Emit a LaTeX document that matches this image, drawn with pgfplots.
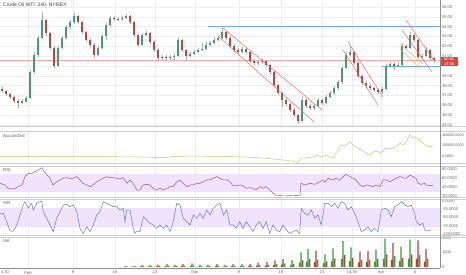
\documentclass[border=0pt]{standalone}
\usepackage{fontspec}
\setmainfont{Liberation Sans}
\usepackage{pgfplots}
\usepackage{pgfplotstable}
\pgfplotsset{compat=1.18}
\definecolor{upc}{RGB}{80,150,118}
\definecolor{dnc}{RGB}{168,78,70}
\definecolor{wickc}{RGB}{175,175,175}
\definecolor{chan}{RGB}{230,100,100}
\definecolor{hblue}{RGB}{115,165,225}
\definecolor{orng}{RGB}{240,175,90}
\definecolor{pline}{RGB}{240,170,170}
\definecolor{adc}{RGB}{200,195,120}
\definecolor{rsic}{RGB}{150,80,170}
\definecolor{wrc}{RGB}{100,120,190}
\definecolor{band}{RGB}{240,226,250}
\definecolor{vg}{RGB}{55,155,60}
\definecolor{vr}{RGB}{170,65,65}
\definecolor{boxred}{RGB}{220,70,60}
\definecolor{sep}{RGB}{205,205,205}

\pgfplotstableread{
x o h l c
2 47.60 47.85 47.30 47.46
6 47.46 47.60 47.00 47.15
10 47.15 47.30 46.65 46.85
14 46.85 46.95 46.25 46.44
18 46.44 46.60 45.75 46.34
22 46.34 46.60 46.15 46.40
26 46.40 46.95 46.30 46.75
30 46.75 49.60 46.65 49.39
34 49.39 51.40 49.20 51.12
38 51.12 53.10 50.95 52.85
42 52.85 55.49 52.70 54.68
46 54.68 54.80 53.10 53.36
50 53.36 53.50 51.60 51.83
54 51.83 52.00 49.75 50.00
58 50.00 52.00 49.90 51.83
62 51.83 53.05 51.70 52.85
66 52.85 54.20 52.70 53.97
70 53.97 54.70 53.80 54.47
74 54.47 55.40 54.30 55.08
78 55.08 55.20 54.30 54.47
82 54.47 54.60 53.25 53.46
86 53.46 53.60 52.45 52.64
90 52.64 52.80 51.95 52.14
94 52.14 52.30 50.85 51.12
98 51.12 52.00 51.00 51.83
102 51.83 53.25 51.70 53.05
106 53.05 54.40 52.60 54.17
110 54.17 55.10 54.00 54.88
114 54.88 55.05 54.55 54.80
118 54.80 55.00 54.55 54.78
122 54.78 55.10 54.60 54.88
126 54.88 55.30 54.80 55.08
130 55.08 55.20 54.30 54.47
134 54.47 54.60 52.95 53.15
138 53.15 53.30 51.95 52.14
142 52.14 53.40 52.00 53.15
146 53.15 53.60 53.00 53.36
150 53.36 53.50 52.25 52.44
154 52.44 52.60 51.45 51.63
158 51.63 51.80 50.60 50.81
162 50.81 51.15 50.60 50.92
166 50.92 51.10 50.65 50.81
170 50.81 51.15 50.65 50.92
174 50.92 51.25 50.55 51.02
178 51.02 52.85 50.95 52.64
182 52.64 52.75 51.45 51.63
186 51.63 51.75 50.50 51.02
190 51.02 51.45 50.90 51.22
194 51.22 51.65 51.10 51.42
198 51.42 51.85 51.30 51.63
202 51.63 52.30 51.50 51.73
206 51.73 52.40 51.60 52.14
210 52.14 52.55 52.00 52.34
214 52.34 52.90 52.20 52.64
218 52.64 53.10 52.50 52.85
222 52.85 53.86 52.75 53.46
226 53.46 53.60 52.65 52.85
230 52.85 53.00 51.85 52.03
234 52.03 52.20 51.45 51.63
238 51.63 51.80 51.25 51.42
242 51.42 51.95 51.30 51.73
246 51.73 51.90 51.25 51.42
250 51.42 51.55 50.30 50.51
254 50.51 50.70 50.10 50.31
258 50.31 50.65 50.15 50.41
262 50.41 50.80 50.25 50.51
266 50.51 50.65 49.90 50.10
270 50.10 50.25 49.20 49.39
274 49.39 49.50 47.90 48.07
278 48.07 48.20 47.05 47.25
282 47.25 47.40 45.80 46.54
286 46.54 46.70 45.90 46.14
290 46.14 46.30 45.30 45.53
294 45.53 45.70 44.80 45.02
298 45.02 45.15 44.10 44.41
302 44.41 46.90 44.30 46.54
306 46.54 46.70 45.70 45.93
310 45.93 46.10 45.50 45.73
314 45.73 46.15 45.55 45.93
318 45.93 46.75 45.80 46.54
322 46.54 46.70 46.05 46.24
326 46.24 47.05 46.10 46.85
330 46.85 47.45 46.70 47.25
334 47.25 48.00 47.10 47.76
338 47.76 48.60 47.60 48.37
342 48.37 50.00 48.20 49.80
346 49.80 51.40 49.65 51.12
350 51.12 51.95 50.95 51.42
354 51.42 51.55 50.10 50.31
358 50.31 50.45 48.80 48.98
362 48.98 49.10 48.05 48.27
366 48.27 48.45 47.75 47.97
370 47.97 48.15 47.55 47.76
374 47.76 47.90 47.35 47.56
378 47.56 47.75 47.15 47.36
382 47.36 47.90 47.20 47.66
386 47.66 50.25 47.55 50.00
390 50.00 50.45 49.85 50.20
394 50.20 50.40 49.60 50.00
398 50.00 50.40 49.85 50.10
402 50.10 52.30 50.00 52.03
406 52.03 52.20 51.60 51.83
410 51.83 53.50 51.70 53.15
414 53.15 53.25 52.40 52.64
418 52.64 52.75 50.70 50.92
422 50.92 51.25 50.75 51.02
426 51.02 51.90 50.90 51.63
430 51.63 51.75 50.60 50.81
434 50.81 50.95 50.45 50.61
}\candles

\pgfplotstableread{
x v
0 -13000
20 -10000
40 -11000
60 -13000
80 -10000
100 -11000
120 -15000
140 -19000
153 -25000
165 -29000
173 -10000
187 -4000
200 -2000
213 -11000
233 -13000
245 -19000
266 -44000
283 -76000
290 -91000
298 -120000
301 -44000
305 -38000
315 -13000
316 19000
321 -13000
326 10000
333 -44000
336 57000
341 210000
345 190000
350 272000
353 210000
358 152000
362 114000
366 57000
370 19000
373 76000
376 95000
381 57000
386 152000
390 133000
393 152000
397 190000
400 248000
403 210000
406 267000
410 400000
413 343000
416 343000
420 305000
425 210000
430 177000
433 190000
}\adtab

\pgfplotstableread{
x v
0 48.7
5 45.1
8 37.8
12 36.3
15 37.8
18 41.4
22 45.1
25 63.3
28 70.5
32 70.5
35 74.2
38 77.8
42 82.9
43 77.8
47 66.9
50 59.6
53 45.1
57 52.3
60 56.0
63 59.6
67 61.1
70 59.6
73 59.6
77 63.3
80 56.0
83 48.7
87 45.1
90 41.4
93 45.1
97 52.3
100 56.0
103 59.6
107 63.3
110 61.1
113 61.1
117 59.6
120 58.2
123 61.1
127 48.7
130 56.0
133 48.7
137 34.1
140 34.1
143 45.1
147 46.5
150 45.1
153 37.8
157 34.1
160 37.8
163 34.1
167 37.8
170 41.4
173 41.4
177 52.3
180 56.0
183 48.7
187 41.4
190 45.1
193 45.1
197 48.7
200 48.7
203 52.3
207 56.0
210 56.0
213 59.6
217 63.3
220 59.6
223 56.0
227 56.0
230 52.3
233 43.0
240 45.1
243 43.6
246 37.8
250 39.2
253 37.8
256 34.1
260 41.4
263 37.8
266 41.4
270 34.1
273 26.9
276 23.2
280 21.8
283 23.2
286 23.2
290 21.8
293 23.2
296 21.8
300 23.2
301 48.7
305 45.1
310 48.7
315 46.5
320 52.3
323 56.0
325 50.9
328 59.6
333 56.0
336 59.6
340 56.0
343 63.3
346 68.4
350 63.3
353 59.6
356 56.0
360 45.1
363 41.4
366 45.1
370 43.6
373 41.4
376 45.1
380 41.4
383 56.0
386 56.0
390 52.3
393 56.0
396 59.6
400 63.3
403 61.1
406 59.6
410 66.9
413 63.3
416 59.6
418 48.7
421 46.5
425 48.7
426 45.1
430 43.6
433 43.6
}\rsitab

\pgfplotstableread{
x v
0 -37.4
3.3 -37.4
6.7 -62.6
10 -90.9
13.3 -90.9
16.7 -72.7
20 -42.4
23.3 -12.1
25 -2.0
28.3 -22.2
31.7 -7.1
33.3 -27.3
36.7 -7.1
40 -2.0
41.7 -0.5
43.3 -32.3
46.7 -52.5
50 -72.7
53.3 -92.9
56.7 -52.5
60 -32.3
63.3 -12.1
66.7 -10.1
70 -17.2
73.3 -12.1
76.7 -32.3
80 -82.8
83.3 -98.0
86.7 -77.8
90 -92.9
93.3 -72.7
96.7 -42.4
100 -32.3
103.3 -2.0
106.7 -7.1
110 -12.1
113.3 -17.2
116.7 -17.2
120 -27.3
123.3 -22.2
125 -62.6
126.7 -27.3
130 -27.3
133.3 -82.8
135 -98.0
136.7 -90.9
140 -92.9
143.3 -47.5
146.7 -57.6
150 -67.7
153.3 -72.7
156.7 -82.8
160 -72.7
163.3 -82.8
166.7 -72.7
170 -92.9
173.3 -62.6
176.7 -7.1
180 -12.1
183.3 -52.5
186.7 -62.6
190 -72.7
193.3 -42.4
196.7 -52.5
200 -37.4
203.3 -52.5
206.7 -27.3
210 -42.4
213.3 -22.2
216.7 -12.1
220 -7.1
223.3 -42.4
226.7 -27.3
230 -72.7
233 -72.7
236.3 -82.8
239.7 -62.6
243 -82.8
246.3 -62.6
249.7 -77.8
253 -92.9
256.3 -72.7
259.7 -62.6
263 -82.8
266.3 -62.6
269.7 -98.0
273 -72.7
276.3 -87.9
279.7 -92.9
283 -72.7
286.3 -87.9
289.7 -98.0
293 -92.9
296.3 -87.9
299.7 -98.0
301.3 -22.2
304.7 -37.4
308 -42.4
311.3 -27.3
314.7 -52.5
318 -42.4
321.3 -72.7
324.7 -7.1
328 -7.1
331.3 -17.2
334.7 -7.1
338 -22.2
341.3 -2.0
344.7 -7.1
348 -27.3
351.3 -17.2
354.7 -37.4
358 -62.6
361.3 -92.9
364.7 -87.9
368 -77.8
371.3 -92.9
374.7 -82.8
378 -92.9
381.3 -27.3
384.7 -22.2
388 -27.3
391.3 -47.5
394.7 -17.2
398 -12.1
401.3 -2.0
404.7 -12.1
408 -17.2
411.3 -12.1
414.7 -37.4
416.3 -62.6
419.7 -72.7
423 -67.7
424.7 -87.9
428 -90.9
431.3 -87.9
}\wrtab

\pgfplotstableread{
x v g
124.1 18 1
125.7 60 1
127.3 27 0
132.4 24 1
134 80 1
135.6 36 0
140.4 42 1
142 140 1
143.6 63 0
148.4 42 1
150 140 1
151.6 63 0
156.4 51 0
158 170 0
159.6 77 1
165.4 57 1
167 190 1
168.6 86 0
173.4 51 1
175 170 1
176.6 77 0
181.4 57 0
183 190 0
184.6 86 1
190.4 75 1
192 250 1
193.6 113 0
198.4 51 1
200 170 1
201.6 77 0
206.4 51 1
208 170 1
209.6 77 0
215.4 57 0
217 190 0
218.6 86 1
223.4 51 1
225 170 1
226.6 77 0
231.4 57 1
233 190 1
234.6 86 0
240.4 66 1
242 220 1
243.6 99 0
248.4 66 0
250 220 0
251.6 99 1
256.4 90 0
258 300 0
259.6 135 1
265.4 99 0
267 330 0
268.6 149 1
273.4 135 0
275 450 0
276.6 203 1
281.4 165 0
283 550 0
284.6 248 1
290.4 144 1
292 480 1
293.6 216 0
299.4 303 1
301 1010 1
302.6 455 0
306.4 375 1
308 1250 1
309.6 563 0
314.4 339 0
316 1130 0
317.6 509 1
323.4 261 1
325 870 1
326.6 392 0
331.4 387 1
333 1290 1
334.6 581 0
341.4 543 1
343 1810 1
344.6 815 0
349.4 408 1
351 1360 1
352.6 612 0
358.4 318 0
360 1060 0
361.6 477 1
366.4 330 0
368 1100 0
369.6 495 1
374.4 366 1
376 1220 1
377.6 549 0
383.4 585 1
385 1950 1
386.6 878 0
391.4 495 0
393 1650 0
394.6 743 1
399.4 423 1
401 1410 1
402.6 635 0
408.4 564 1
410 1880 1
411.6 846 0
416.4 552 0
418 1840 0
419.6 828 1
424.4 375 0
426 1250 0
427.6 563 1
}\voltab

\pgfplotsset{
  pane/.style={
    scale only axis, width=440pt, xmin=0, xmax=440,
    anchor=north west,
    axis line style={draw=none}, tick style={draw=none},
    scaled y ticks=false, scaled x ticks=false,
    xtick={28,73,115,155,195,239,281,322,352,381,415},
    xticklabels={},
    xmajorgrids, grid style={gray!14, line width=0.35pt},
    yticklabel pos=right,
    ticklabel style={font=\fontsize{4.1}{5}\selectfont, text=black!60},
    yticklabel style={anchor=west, xshift=-1.5pt},
    clip=true,
  },
  wick/.style={only marks, mark size=0pt, mark options={draw=none, fill=none}, forget plot,
    error bars/.cd, y dir=both, y explicit, error mark=none,
    error bar style={draw=wickc, line width=0.45pt}},
  body/.style={only marks, mark size=0pt, mark options={draw=none, fill=none}, forget plot,
    error bars/.cd, y dir=both, y explicit, error mark=none,
    error bar style={draw=#1, line width=2.4pt}},
}

\begin{document}
\begin{tikzpicture}
\useasboundingbox (0pt,0pt) rectangle (466pt,275pt);

% ---------- main price pane ----------
\begin{axis}[pane, at={(0pt,275pt)}, height=126pt,
  ymin=43.90, ymax=56.71,
  ytick={44,45,46,47,48,49,50,51,52,53,54,55,56},
  yticklabels={44.00,45.00,46.00,47.00,48.00,49.00,{},51.00,52.00,53.00,54.00,55.00,56.00},
  ymajorgrids]
\addplot[pline, line width=0.5pt, forget plot] coordinates {(0,50.61) (440,50.61)};
\addplot[wick] table[x=x, y expr={(\thisrow{h}+\thisrow{l})/2}, y error expr={(\thisrow{h}-\thisrow{l})/2}] {\candles};
\addplot[restrict expr to domain={\thisrow{c}-\thisrow{o}}{0:100}, body=upc] table[x=x, y expr={(\thisrow{o}+\thisrow{c})/2}, y error expr={abs(\thisrow{c}-\thisrow{o})/2+0.02}] {\candles};
\addplot[restrict expr to domain={\thisrow{c}-\thisrow{o}}{-100:0}, body=dnc] table[x=x, y expr={(\thisrow{o}+\thisrow{c})/2}, y error expr={abs(\thisrow{c}-\thisrow{o})/2+0.02}] {\candles};
% horizontal levels
\addplot[draw=hblue, line width=0.8pt] coordinates {(208,54.00) (440,54.00)};
\addplot[draw=hblue, line width=0.8pt] coordinates {(382,50.00) (440,50.00)};
% channels
\addplot[draw=chan, line width=0.45pt] coordinates {(223,53.86) (322,45.53)};
\addplot[draw=chan, line width=0.45pt] coordinates {(218,53.05) (314,44.31)};
\addplot[draw=chan, line width=0.45pt] coordinates {(348,52.44) (383,46.85)};
\addplot[draw=chan, line width=0.45pt] coordinates {(343,51.63) (378,46.03)};
\addplot[draw=chan, line width=0.45pt] coordinates {(406,54.68) (435,50.41)};
\addplot[draw=chan, line width=0.45pt] coordinates {(402,53.66) (432,49.39)};
\addplot[draw=orng, line width=0.5pt] coordinates {(400,52.24) (423,50.20)};
\addplot[draw=orng, line width=0.5pt] coordinates {(400,51.73) (420,49.80)};
\end{axis}

% ---------- Accum/Dist ----------
\begin{axis}[pane, at={(0pt,143pt)}, height=31pt,
  ymin=-133336, ymax=457150,
  ytick={0,200000,400000},
  yticklabels={0.0000,200000.0000,400000.0000},
  yticklabel style={font=\fontsize{3.7}{4.5}\selectfont}]
\addplot[draw=adc, line width=0.5pt] table[x=x,y=v] {\adtab};
\end{axis}

% ---------- RSI ----------
\begin{axis}[pane, at={(0pt,108pt)}, height=30pt,
  ymin=18.86, ymax=84.37,
  ytick={20,40,60,80},
  yticklabels={20.0000,40.0000,60.0000,80.0000}]
\addplot[fill=band, draw=none, forget plot] coordinates {(0,30) (440,30) (440,70) (0,70)} -- cycle;
\addplot[draw=rsic, line width=0.5pt] table[x=x,y=v] {\rsitab};
\end{axis}

% ---------- Williams %R ----------
\begin{axis}[pane, at={(0pt,75pt)}, height=35pt,
  ymin=-103, ymax=3.03,
  ytick={-100,-75,-50,-25,0},
  yticklabels={-100.0000,-75.0000,-50.0000,-25.0000,0.0000}]
\addplot[fill=band, draw=none, forget plot] coordinates {(0,-80) (440,-80) (440,-20) (0,-20)} -- cycle;
\addplot[draw=wrc, line width=0.5pt] table[x=x,y=v] {\wrtab};
\end{axis}

% ---------- Volume ----------
\begin{axis}[pane, at={(0pt,38pt)}, height=31pt,
  ymin=-69, ymax=2069,
  ytick={0,1000,2000},
  yticklabels={0,1000,2000},
  xticklabels={Feb,9,16,23,Mar,9,16,23,14:30,Apr,6},
  extra x ticks={5}, extra x tick labels={4:30},
  extra x tick style={grid=none},
  xticklabel style={yshift=0.5pt}]
\addplot[ybar, bar width=1.3pt, bar shift=0pt, fill=vg, draw=none,
  restrict expr to domain={\thisrow{g}}{0.5:1.5}] table[x=x,y=v] {\voltab};
\addplot[ybar, bar width=1.3pt, bar shift=0pt, fill=vr, draw=none,
  restrict expr to domain={\thisrow{g}}{-0.5:0.5}] table[x=x,y=v] {\voltab};
\end{axis}

% ---------- frame / separators ----------
\begin{scope}[x=1pt,y=1pt]
\draw[sep, line width=0.7pt] (0,148.5) -- (466,148.5);
\draw[sep, line width=0.7pt] (0,143.5) -- (466,143.5);
\draw[sep, line width=0.7pt] (0,111.5) -- (466,111.5);
\draw[sep, line width=0.7pt] (0,108.5) -- (466,108.5);
\draw[sep, line width=0.7pt] (0,77.5) -- (466,77.5);
\draw[sep, line width=0.7pt] (0,75.5) -- (466,75.5);
\draw[sep, line width=0.7pt] (0,39.5) -- (466,39.5);
\draw[sep, line width=0.7pt] (0,38) -- (466,38);
\draw[black!45, line width=0.5pt] (440,7) -- (440,275);
\draw[black!45, line width=0.5pt] (0,7) -- (440,7);
\node[anchor=north west, inner sep=0pt, font=\fontsize{5}{6}\selectfont, text=black!75] at (3,272) {Crude Oil WTI, 240, NYMEX};
\node[anchor=west, inner sep=0pt, font=\fontsize{4.3}{5}\selectfont, text=black!65] at (3,139) {Accum/Dist};
\node[anchor=west, inner sep=0pt, font=\fontsize{4.3}{5}\selectfont, text=black!65] at (3,105) {RSI};
\node[anchor=west, inner sep=0pt, font=\fontsize{4.3}{5}\selectfont, text=black!65] at (3,72) {\%R};
\node[anchor=west, inner sep=0pt, font=\fontsize{4.3}{5}\selectfont, text=black!65] at (3,34.5) {Vol};
\node[anchor=west, fill=boxred, text=white, inner sep=0.7pt, align=center,
  font=\fontsize{4}{4.4}\selectfont, minimum width=17pt] at (440.5,213.5) {50.61\\13:36};
\end{scope}
\end{tikzpicture}
\end{document}
